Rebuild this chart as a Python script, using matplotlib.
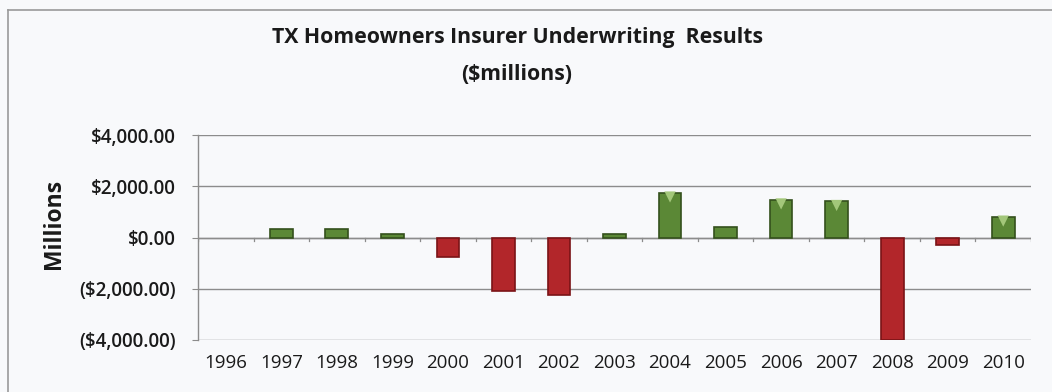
import matplotlib.pyplot as plt
from matplotlib.lines import Line2D
from matplotlib.ticker import FuncFormatter, FixedLocator
import numpy as np

years = ["1996", "1997", "1998", "1999", "2000", "2001", "2002", "2003",
         "2004", "2005", "2006", "2007", "2008", "2009", "2010"]
results = [0, 350, 330, 150, -780, -2080, -2250, 150,
           1750, 420, 1480, 1420, -4000, -300, 810]

plt.rcParams['font.family'] = ['Open Sans', 'DejaVu Sans']

def money(v, pos=None):
    if v < 0:
        return "(${:,.2f})".format(-v)
    return "${:,.2f}".format(v)

W, H = 1052, 392
fig = plt.figure(figsize=(W / 100, H / 100), dpi=100)
fig.patch.set_facecolor('#f8f9fb')

# frame of the chart object (only left and top edges fall inside the image)
fig.add_artist(Line2D([8 / W, 8 / W], [0, 1 - 10 / H], color='#9a9a9a', lw=1.2))
fig.add_artist(Line2D([8 / W, 1], [1 - 10 / H, 1 - 10 / H], color='#9a9a9a', lw=1.2))

ax = fig.add_axes([198 / W, 1 - 340 / H, 833 / W, 205 / H])
ax.set_facecolor('#f8f9fb')

x = np.arange(len(years))
vals = np.array(results)
colors = ['#5b8836' if v >= 0 else '#b2262a' for v in vals]
edges = ['#34501c' if v >= 0 else '#7a1316' for v in vals]
widths = [1.2 if v != 0 else 0 for v in vals]
ax.bar(x, vals, width=0.41, color=colors, edgecolor=edges, linewidth=widths, zorder=3)

# light triangle highlight on top of the taller green bars
tall = vals > 500
ax.scatter(x[tall], vals[tall] - 170, marker='v', s=65, color='#a3c77a',
           edgecolor='none', zorder=4)

ax.set_xlim(-0.5, len(years) - 0.5)
ax.set_ylim(-4000, 4000)
ax.yaxis.set_major_locator(FixedLocator([-4000, -2000, 0, 2000, 4000]))
ax.yaxis.set_major_formatter(FuncFormatter(money))
ax.grid(axis='y', color='#8c8c8c', lw=1.0, zorder=0)

for s in ['top', 'right', 'bottom']:
    ax.spines[s].set_visible(False)
ax.spines['left'].set_color('#8c8c8c')
ax.spines['left'].set_linewidth(1.0)

# category axis sits on the zero line with ticks between categories
ax.axhline(0, color='#8c8c8c', lw=1.0, zorder=2)
ax.set_xticks(x)
ax.set_xticklabels(years, fontsize=13.5, color='#1a1a1a')
ax.tick_params(axis='x', length=0, pad=10)
for b in np.arange(-0.5, len(years), 1.0):
    ax.plot([b, b], [0, -120], color='#8c8c8c', lw=0.9, zorder=2)
ax.tick_params(axis='y', length=4, color='#8c8c8c', labelsize=13.5,
               labelcolor='#1a1a1a', pad=12)
for lbl in ax.get_yticklabels():
    lbl.set_fontweight('semibold')

fig.text(54 / W, 1 - 224 / H, 'Millions', rotation=90, ha='center', va='center',
         fontsize=16.5, fontweight='bold', color='#1a1a1a')

fig.text(517 / W, 1 - 38 / H, 'TX Homeowners Insurer Underwriting  Results',
         ha='center', va='center', fontsize=15.3, fontweight='bold', color='#1a1a1a')
fig.text(517 / W, 1 - 74 / H, '($millions)',
         ha='center', va='center', fontsize=15.3, fontweight='bold', color='#1a1a1a')

fig.savefig('out.png', dpi=100, facecolor=fig.get_facecolor())
